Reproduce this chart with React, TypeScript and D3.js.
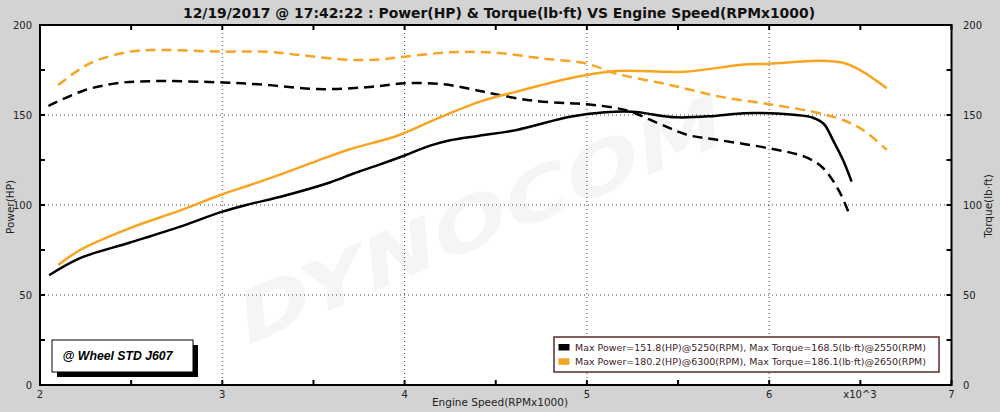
import React from "react";
import * as d3 from "d3";

const W = 1000;
const H = 412;

const titleText =
  "12/19/2017 @ 17:42:22 : Power(HP) & Torque(lb·ft) VS Engine Speed(RPMx1000)";
const xTickLabels = [2, 3, 4, 5, 6, 7];
const yTickLabels = [0, 50, 100, 150, 200];
const legendLabels = [
  "Max Power=151.8(HP)@5250(RPM), Max Torque=168.5(lb·ft)@2550(RPM)",
  "Max Power=180.2(HP)@6300(RPM), Max Torque=186.1(lb·ft)@2650(RPM)",
];
const seriesColors = ["#000000", "#f7a521"];

// Run 1 (black)
const power1: [number, number][] = [
  [2.05, 61], [2.22, 70.5], [2.49, 79], [2.77, 88], [3.0, 96.3], [3.15, 100.5],
  [3.32, 104.6], [3.59, 112.5], [3.72, 117.5], [3.85, 122], [4.0, 127.5], [4.14, 133],
  [4.25, 136], [4.41, 138.5], [4.615, 141.7], [4.907, 149], [5.1, 151.5], [5.25, 151.8],
  [5.49, 148.7], [5.7, 149.5], [5.86, 151], [6.0, 151], [6.15, 150], [6.24, 148.5],
  [6.3, 145], [6.35, 136], [6.405, 125], [6.452, 113],
];
const torque1: [number, number][] = [
  [2.046, 155], [2.237, 163.5], [2.42, 167.6], [2.6, 168.8], [3.0, 168.1],
  [3.243, 166.7], [3.52, 164.4], [3.79, 165.4], [4.0, 167.6], [4.2, 167.2],
  [4.36, 164.5], [4.5, 161.5], [4.7, 158], [4.907, 156.5], [5.0, 156], [5.22, 152.5],
  [5.4, 145], [5.55, 139], [5.73, 136], [6.0, 131.5], [6.19, 127], [6.28, 122],
  [6.335, 115.7], [6.39, 106.5], [6.434, 96.3],
];
// Run 2 (orange)
const power2: [number, number][] = [
  [2.1, 66.7], [2.22, 75], [2.49, 87], [2.77, 97], [3.0, 106], [3.15, 111],
  [3.32, 117], [3.52, 124.5], [3.7, 131], [3.96, 138.5], [4.2, 149], [4.43, 158],
  [4.615, 163], [4.907, 170.4], [5.16, 174.4], [5.53, 174], [5.86, 178], [6.0, 178.5],
  [6.28, 180.2], [6.406, 179], [6.515, 174], [6.645, 164.8],
];
const torque2: [number, number][] = [
  [2.1, 166.7], [2.274, 178.7], [2.494, 185.2], [2.658, 186.1], [3.0, 185.2],
  [3.243, 185.2], [3.426, 183.3], [3.7, 180.6], [3.88, 181], [4.0, 182.4],
  [4.25, 184.8], [4.485, 184.7], [4.75, 181.5], [5.0, 178.5], [5.16, 173],
  [5.456, 166.7], [5.73, 160.2], [6.0, 156], [6.24, 151.8], [6.405, 147.2],
  [6.515, 141.7], [6.645, 130.6],
];

const left = 40;
const right = 951.5;
const top = 25;
const bottom = 385;

export default function App() {
  const x = d3.scaleLinear().domain([2, 7]).range([left, right]);
  const yL = d3.scaleLinear().domain([0, 200]).range([bottom, top]);
  const yR = d3.scaleLinear().domain([0, 200]).range([bottom, top]);

  const curve = d3.curveCatmullRom.alpha(0.5);
  const lineL = d3
    .line<[number, number]>()
    .x((d) => x(d[0]))
    .y((d) => yL(d[1]))
    .curve(curve);
  const lineR = d3
    .line<[number, number]>()
    .x((d) => x(d[0]))
    .y((d) => yR(d[1]))
    .curve(curve);

  const xMinor = d3.range(2, 7.01, 0.5);
  const yMinor = d3.range(0, 200.01, 25);
  const gridX = [3, 4, 5, 6];
  const gridY = [50, 100, 150];
  const tickLen = 5;
  const font = "'DejaVu Sans', Verdana, sans-serif";

  return (
    <svg
      width={W}
      height={H}
      style={{ position: "absolute", left: 0, top: 0 }}
      xmlns="http://www.w3.org/2000/svg"
    >
      <rect x={0} y={0} width={W} height={H} fill="#d3d3d3" />
      <rect x={left} y={top} width={right - left} height={bottom - top} fill="#ffffff" />

      {/* watermark */}
      <text
        x={0}
        y={0}
        transform="translate(483 245) rotate(-23) skewX(-18) scale(1.3 1)"
        textAnchor="middle"
        fontFamily="'DejaVu Sans', sans-serif"
        fontWeight="bold"
        fontSize={70}
        fill="#f5f5f5"
      >
        DYNOCOM
      </text>

      {/* grid */}
      {gridX.map((v) => (
        <line key={"gx" + v} x1={x(v)} x2={x(v)} y1={top} y2={bottom}
          stroke="#444" strokeWidth={1} strokeDasharray="1,3" />
      ))}
      {gridY.map((v) => (
        <line key={"gy" + v} x1={left} x2={right} y1={yL(v)} y2={yL(v)}
          stroke="#444" strokeWidth={1} strokeDasharray="1,3" />
      ))}

      {/* curves */}
      <path d={lineR(torque1) || ""} fill="none" stroke={seriesColors[0]} strokeWidth={2.5} strokeDasharray="10,6" />
      <path d={lineR(torque2) || ""} fill="none" stroke={seriesColors[1]} strokeWidth={2.5} strokeDasharray="10,6" />
      <path d={lineL(power2) || ""} fill="none" stroke={seriesColors[1]} strokeWidth={2.5} />
      <path d={lineL(power1) || ""} fill="none" stroke={seriesColors[0]} strokeWidth={2.5} />

      {/* frame */}
      <rect x={left} y={top} width={right - left} height={bottom - top}
        fill="none" stroke="#000" strokeWidth={2} />

      {/* ticks */}
      {xMinor.map((v) => (
        <g key={"xt" + v}>
          <line x1={x(v)} x2={x(v)} y1={bottom} y2={bottom - tickLen} stroke="#000" strokeWidth={2} />
          <line x1={x(v)} x2={x(v)} y1={top} y2={top + tickLen} stroke="#000" strokeWidth={2} />
        </g>
      ))}
      {yMinor.map((v) => (
        <g key={"yt" + v}>
          <line x1={left} x2={left + tickLen} y1={yL(v)} y2={yL(v)} stroke="#000" strokeWidth={2} />
          <line x1={right} x2={right - tickLen} y1={yR(v)} y2={yR(v)} stroke="#000" strokeWidth={2} />
        </g>
      ))}

      {/* tick labels */}
      {xTickLabels.map((v) => (
        <text key={"xl" + v} x={x(v)} y={398} textAnchor="middle"
          fontFamily={font} fontSize={10} fill="#222">{v}</text>
      ))}
      <text x={860} y={398} textAnchor="middle" fontFamily={font} fontSize={10} fill="#222">x10^3</text>
      {yTickLabels.map((v) => (
        <text key={"yl" + v} x={32} y={yL(v) + 3.5} textAnchor="end"
          fontFamily={font} fontSize={10} fill="#222">{v}</text>
      ))}
      {yTickLabels.map((v) => (
        <text key={"yr" + v} x={963} y={yR(v) + 3.5} textAnchor="start"
          fontFamily={font} fontSize={10} fill="#222">{v}</text>
      ))}

      {/* axis titles */}
      <text x={500} y={406} textAnchor="middle" fontFamily={font} fontSize={10.5} fill="#222">
        Engine Speed(RPMx1000)
      </text>
      <text transform="translate(13.5 207) rotate(-90)" textAnchor="middle"
        fontFamily={font} fontSize={10.5} fill="#222">Power(HP)</text>
      <text transform="translate(991.5 206) rotate(-90)" textAnchor="middle"
        fontFamily={font} fontSize={10.5} fill="#222">Torque(lb·ft)</text>

      {/* title */}
      <text x={499} y={18} textAnchor="middle" fontFamily={font} fontWeight="bold"
        fontSize={14} fill="#111" textLength={632} lengthAdjust="spacingAndGlyphs">
        {titleText}
      </text>

      {/* wheel box */}
      <rect x={57} y={345} width={141} height={32} fill="#000" />
      <rect x={52} y={340} width={141} height={32} fill="#fff" stroke="#000" strokeWidth={1} />
      <text x={62.5} y={360} fontFamily="'Liberation Sans', Arial, sans-serif"
        fontWeight="bold" fontStyle="italic" fontSize={12.5} fill="#000"
        textLength={110} lengthAdjust="spacingAndGlyphs">@ Wheel STD J607</text>

      {/* legend */}
      <rect x={554} y={337} width={385} height={35} fill="#fff" stroke="#5a2a2a" strokeWidth={1.5} />
      {legendLabels.map((t, i) => (
        <g key={"lg" + i}>
          <rect x={558.5} y={344 + i * 14.3} width={11} height={6.5} fill={seriesColors[i]} />
          <text x={575} y={351 + i * 14.3} fontFamily={font} fontSize={9.5} fill="#3d1c1c"
            textLength={351} lengthAdjust="spacingAndGlyphs">{t}</text>
        </g>
      ))}
    </svg>
  );
}
